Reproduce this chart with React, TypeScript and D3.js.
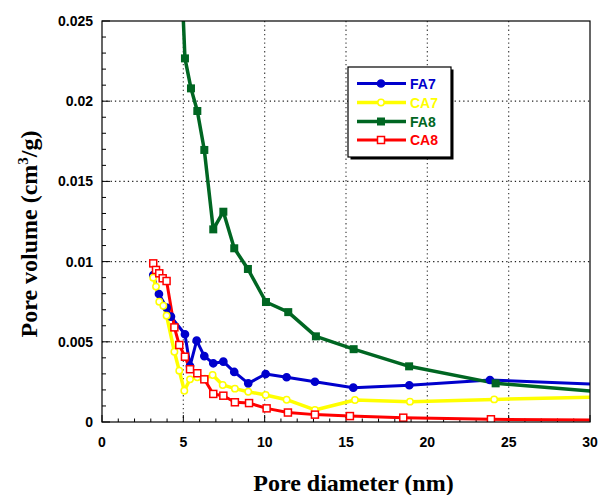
import React from "react";
import * as d3 from "d3";

const fa7X = [3.15, 3.5, 3.97, 4.24, 5.1, 5.41, 5.82, 6.29, 6.84, 7.46, 8.13, 8.99, 10.06, 11.35, 13.09, 15.45, 18.89, 23.85, 32];
const fa7Y = [0.00916, 0.00798, 0.00713, 0.00657, 0.00547, 0.00349, 0.00507, 0.00411, 0.00366, 0.00376, 0.00312, 0.00241, 0.00299, 0.00279, 0.00251, 0.00214, 0.00229, 0.00262, 0.00229];

const ca7X = [3.15, 3.32, 3.52, 3.77, 3.97, 4.45, 4.75, 5.06, 5.41, 5.86, 6.33, 6.8, 7.42, 8.17, 8.99, 10.06, 11.35, 13.09, 15.55, 18.93, 24.11, 32];
const ca7Y = [0.009, 0.00844, 0.0075, 0.00725, 0.00663, 0.00438, 0.0032, 0.00195, 0.00266, 0.00279, 0.0027, 0.00293, 0.00231, 0.00208, 0.00189, 0.00168, 0.00139, 0.00075, 0.00137, 0.00127, 0.00141, 0.00158];

const fa8X = [4.75, 5.1, 5.47, 5.86, 6.29, 6.84, 7.46, 8.13, 8.97, 10.08, 11.45, 13.15, 15.47, 18.88, 24.2, 32];
const fa8Y = [0.031, 0.02267, 0.0208, 0.01939, 0.01696, 0.01201, 0.01311, 0.01083, 0.00954, 0.00748, 0.00685, 0.00534, 0.00454, 0.00347, 0.00241, 0.00176];

const ca8X = [3.15, 3.32, 3.52, 3.73, 3.97, 4.45, 4.75, 5.1, 5.41, 5.86, 6.29, 6.84, 7.46, 8.17, 9.04, 10.12, 11.43, 13.09, 15.24, 18.52, 23.91, 32];
const ca8Y = [0.00989, 0.00948, 0.00927, 0.00896, 0.00879, 0.0059, 0.0048, 0.00407, 0.00329, 0.00304, 0.00266, 0.00175, 0.00164, 0.00123, 0.00118, 0.00085, 0.00059, 0.00046, 0.00037, 0.00027, 0.00017, 0.0001];

const xTicks = [0, 5, 10, 15, 20, 25, 30];
const yTicks = [0, 0.005, 0.01, 0.015, 0.02, 0.025];
const yTickLabels = ["0", "0.005", "0.01", "0.015", "0.02", "0.025"];
const seriesNames = ["FA7", "CA7", "FA8", "CA8"];

const L = 102, R = 590, T = 21, B = 422;

export default function App() {
  const x = d3.scaleLinear().domain([0, 30]).range([L, R]);
  const y = d3.scaleLinear().domain([0, 0.025]).range([B, T]);
  const line = d3.line<[number, number]>().x(d => x(d[0])).y(d => y(d[1]));

  const series = [
    { name: seriesNames[0], xs: fa7X, ys: fa7Y, color: "#0000cc", marker: "circle", fill: "#0000cc", lw: 3 },
    { name: seriesNames[1], xs: ca7X, ys: ca7Y, color: "#ffff00", marker: "circle", fill: "#ffffff", lw: 3.5 },
    { name: seriesNames[2], xs: fa8X, ys: fa8Y, color: "#006622", marker: "square", fill: "#006622", lw: 3.5 },
    { name: seriesNames[3], xs: ca8X, ys: ca8Y, color: "#ff0000", marker: "square", fill: "#ffffff", lw: 3 },
  ];

  const minorX = d3.range(0, 31, 1).filter(v => v % 5 !== 0);
  const minorY = d3.range(0, 26, 1).map(v => v / 1000).filter((v, i) => i % 5 !== 0);

  const drawMarker = (s: any, px: number, py: number, key: string | number) => {
    if (s.marker === "circle") {
      return <circle key={key} cx={px} cy={py} r={s.fill === "#ffffff" ? 3.2 : 3.6} fill={s.fill} stroke={s.color} strokeWidth={1.5} />;
    }
    const size = s.fill === "#ffffff" ? 7 : 8;
    return <rect key={key} x={px - size / 2} y={py - size / 2} width={size} height={size} fill={s.fill} stroke={s.color} strokeWidth={s.fill === "#ffffff" ? 1.5 : 0} />;
  };

  const legX = 348, legY = 67, legW = 103, legH = 90;
  const legRows = [83.5, 102.5, 121.5, 140];

  return (
    <svg width={599} height={495} style={{ position: "absolute", left: 0, top: 0, background: "#fff" }}>
      <defs>
        <clipPath id="plotClip">
          <rect x={L} y={T} width={R - L} height={B - T} />
        </clipPath>
      </defs>
      <rect x={0} y={0} width={599} height={495} fill="#fff" />
      {xTicks.slice(1, -1).map(v => (
        <line key={"gx" + v} x1={x(v)} x2={x(v)} y1={T} y2={B} stroke="#444" strokeWidth={1.2} strokeDasharray="1.3,3" />
      ))}
      {yTicks.slice(1, -1).map(v => (
        <line key={"gy" + v} x1={L} x2={R} y1={y(v)} y2={y(v)} stroke="#222" strokeWidth={1.2} strokeDasharray="1.3,3" />
      ))}
      {xTicks.map(v => (
        <line key={"tx" + v} x1={x(v)} x2={x(v)} y1={B} y2={B - 7} stroke="#000" strokeWidth={1} />
      ))}
      {minorX.map(v => (
        <line key={"mx" + v} x1={x(v)} x2={x(v)} y1={B} y2={B - 3.5} stroke="#000" strokeWidth={1} />
      ))}
      {yTicks.map(v => (
        <line key={"ty" + v} x1={L} x2={L + 8} y1={y(v)} y2={y(v)} stroke="#000" strokeWidth={1} />
      ))}
      {minorY.map(v => (
        <line key={"my" + v} x1={L} x2={L + 4} y1={y(v)} y2={y(v)} stroke="#000" strokeWidth={1} />
      ))}
      <g clipPath="url(#plotClip)">
        {series.map(s => (
          <path key={"l" + s.name} d={line(s.xs.map((v, i) => [v, s.ys[i]] as [number, number])) || ""} fill="none" stroke={s.color} strokeWidth={s.lw} strokeLinejoin="round" />
        ))}
        {series.map(s => (
          <g key={"m" + s.name}>
            {s.xs.map((v, i) => drawMarker(s, x(v), y(s.ys[i]), i))}
          </g>
        ))}
      </g>
      <rect x={L} y={T} width={R - L} height={B - T} fill="none" stroke="#000" strokeWidth={1.2} />
      {xTicks.map(v => (
        <text key={"xl" + v} x={x(v)} y={447} textAnchor="middle" fontFamily="Liberation Sans, Arial, sans-serif" fontWeight="bold" fontSize={14}>{v}</text>
      ))}
      {yTicks.map((v, i) => (
        <text key={"yl" + v} x={93} y={y(v) + 5} textAnchor="end" fontFamily="Liberation Sans, Arial, sans-serif" fontWeight="bold" fontSize={14}>{yTickLabels[i]}</text>
      ))}
      <text x={353.5} y={491} textAnchor="middle" fontFamily="Liberation Serif, Times New Roman, serif" fontWeight="bold" fontSize={24}>Pore diameter (nm)</text>
      <text transform="translate(37,234) rotate(-90)" textAnchor="middle" fontFamily="Liberation Serif, Times New Roman, serif" fontWeight="bold" fontSize={24}>
        Pore volume (cm<tspan dy={-9} fontSize={15}>3</tspan><tspan dy={9}>/g)</tspan>
      </text>
      <rect x={legX + 2.5} y={legY + 2.5} width={legW} height={legH} fill="#000" />
      <rect x={legX} y={legY} width={legW} height={legH} fill="#fff" stroke="#000" strokeWidth={1.2} />
      {series.map((s, i) => (
        <g key={"leg" + s.name}>
          <line x1={357} x2={406} y1={legRows[i]} y2={legRows[i]} stroke={s.color} strokeWidth={s.lw} />
          {drawMarker(s, 381, legRows[i], "lm" + i)}
          <text x={410} y={legRows[i] + 5} fontFamily="Liberation Sans, Arial, sans-serif" fontWeight="bold" fontSize={14} fill={s.color}>{s.name}</text>
        </g>
      ))}
    </svg>
  );
}
